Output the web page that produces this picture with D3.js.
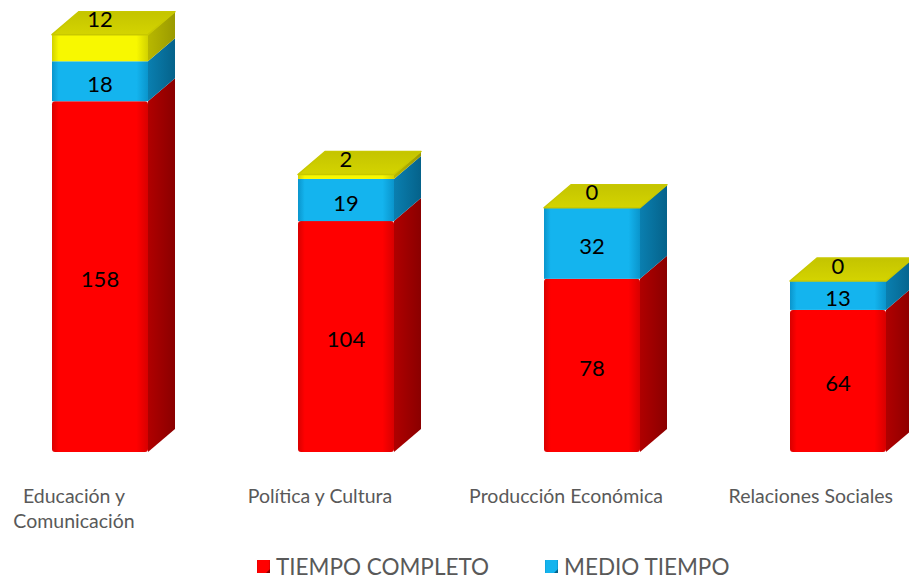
<!DOCTYPE html>
<html>
<head>
<meta charset="utf-8">
<script src="https://cdn.jsdelivr.net/npm/d3@7"></script>
<style>
  body { margin: 0; background: #fff; }
  svg { display: block; }
</style>
</head>
<body>
<div id="viz"></div>
<script>
"use strict";

// data
const categories = ["Educación y Comunicación", "Política y Cultura", "Producción Económica", "Relaciones Sociales"];
const catLines = [["Educación y", "Comunicación"], ["Política y Cultura"], ["Producción Económica"], ["Relaciones Sociales"]];
const tiempoCompleto = [158, 104, 78, 64];
const medioTiempo = [18, 19, 32, 13];
const otros = [12, 2, 0, 0];
const seriesNames = ["TIEMPO COMPLETO", "MEDIO TIEMPO", "OTROS"];
const legendNames = ["TIEMPO COMPLETO", "MEDIO TIEMPO"];

let width = 909;
let height = 582;
let baseY = 452;
let dx = 27, dy = 23;

let rows = categories.map((c, i) => ({
    cat: c,
    "TIEMPO COMPLETO": tiempoCompleto[i],
    "MEDIO TIEMPO": medioTiempo[i],
    "OTROS": otros[i]
}));

let stacked = d3.stack().keys(seriesNames)(rows);

let xScale = d3.scaleBand()
               .domain(categories)
               .range([-23, 961])
               .paddingInner(150 / 246)
               .paddingOuter(75 / 246);

let yScale = d3.scaleLinear()
               .domain([0, 190])
               .range([baseY, baseY - 190 * 2.22]);

let colors = {
    "TIEMPO COMPLETO": { front: "#ff0000", edge: "#d80000", side: "#b00000", sideDark: "#8a0000" },
    "MEDIO TIEMPO":    { front: "#14b4ee", edge: "#0a95cc", side: "#0a7fb0", sideDark: "#05628a" },
    "OTROS":           { front: "#f8f800", edge: "#d2d200", side: "#b8b800", sideDark: "#9a9a00" }
};

let svg = d3.select('#viz')
            .append('svg')
            .attr('width', width)
            .attr('height', height);

let defs = svg.append('defs');
seriesNames.forEach((k, i) => {
    let c = colors[k];
    let g = defs.append('linearGradient').attr('id', 'front' + i);
    g.append('stop').attr('offset', '0%').attr('stop-color', c.edge);
    g.append('stop').attr('offset', '7%').attr('stop-color', c.front);
    g.append('stop').attr('offset', '88%').attr('stop-color', c.front);
    g.append('stop').attr('offset', '100%').attr('stop-color', c.edge);
    let s = defs.append('linearGradient').attr('id', 'side' + i);
    s.append('stop').attr('offset', '0%').attr('stop-color', c.side);
    s.append('stop').attr('offset', '100%').attr('stop-color', c.sideDark);
});
let tg = defs.append('linearGradient').attr('id', 'topface').attr('x1', 0).attr('y1', 1).attr('x2', 0).attr('y2', 0);
tg.append('stop').attr('offset', '0%').attr('stop-color', "#d4d400");
tg.append('stop').attr('offset', '100%').attr('stop-color', "#c4c400");

let bars = svg.selectAll('g.bar')
              .data(categories)
              .enter()
              .append('g')
              .attr('class', 'bar');

bars.each(function(cat, ci) {
    let g = d3.select(this);
    let xl = xScale(cat);
    let xr = xl + xScale.bandwidth();

    stacked.forEach((layer, li) => {
        let d = layer[ci];
        let y0 = yScale(d[0]), y1 = yScale(d[1]);
        if (y0 - y1 <= 0) return;
        // side face
        g.append('path')
         .attr('d', `M${xr},${y0} L${xr + dx},${y0 - dy} L${xr + dx},${y1 - dy} L${xr},${y1} Z`)
         .attr('fill', `url(#side${li})`);
        // front face
        g.append('rect')
         .attr('x', xl)
         .attr('y', y1)
         .attr('width', xr - xl)
         .attr('height', y0 - y1)
         .attr('rx', li === 0 ? 3 : 0)
         .attr('fill', `url(#front${li})`);
    });

    // top face
    let total = tiempoCompleto[ci] + medioTiempo[ci] + otros[ci];
    let yt = yScale(total);
    g.append('path')
     .attr('d', `M${xl},${yt} L${xl + dx},${yt - dy} L${xr + dx},${yt - dy} L${xr},${yt} Z`)
     .attr('fill', 'url(#topface)')
     .attr('stroke', '#c8c800')
     .attr('stroke-width', 1.5)
     .attr('stroke-linejoin', 'round');
});

// data labels
let labelFont = "Lato, 'Open Sans', sans-serif";
stacked.forEach((layer, li) => {
    svg.selectAll('text.lab' + li)
       .data(layer)
       .enter()
       .append('text')
       .attr('class', 'lab' + li)
       .attr('x', (d, i) => xScale(categories[i]) + xScale.bandwidth() / 2)
       .attr('y', d => li === 2 ? yScale(d[1]) - 16 : (yScale(d[0]) + yScale(d[1])) / 2 + 2)
       .attr('text-anchor', 'middle')
       .attr('dominant-baseline', 'central')
       .attr('font-family', labelFont)
       .attr('font-size', '22px')
       .attr('fill', '#000')
       .text(d => d[1] - d[0]);
});

// category labels (kept inside the right edge)
catLines.forEach((lines, i) => {
    let cx = xScale(categories[i]) + xScale.bandwidth() / 2 - 26;
    lines.forEach((line, j) => {
        let t = svg.append('text')
           .attr('x', cx)
           .attr('y', 503 + j * 25)
           .attr('text-anchor', 'middle')
           .attr('font-family', labelFont)
           .attr('font-size', '19.5px')
           .attr('fill', '#595959')
           .text(line);
        let w = t.node().getComputedTextLength();
        if (cx + w / 2 > width - 16) t.attr('x', width - 16 - w / 2);
    });
});

// legend
let legendX = [257, 545];
legendNames.forEach((name, i) => {
    let lg = svg.append('g').attr('transform', `translate(${legendX[i]},560)`);
    lg.append('rect')
      .attr('width', 13).attr('height', 13)
      .attr('fill', `url(#front${i})`);
    lg.append('path')
      .attr('d', 'M9,13 L13,9 L13,13 Z')
      .attr('fill', colors[name].sideDark);
    lg.append('text')
      .attr('x', 19)
      .attr('y', 14.5)
      .attr('font-family', labelFont)
      .attr('font-size', '22.5px')
      .attr('fill', '#595959')
      .text(name);
});
</script>
</body>
</html>
